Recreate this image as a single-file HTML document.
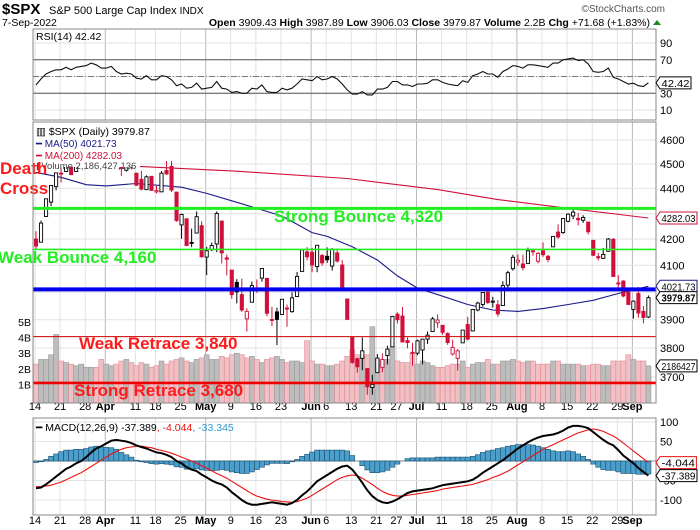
<!DOCTYPE html>
<html><head><meta charset="utf-8"><style>
html,body{margin:0;padding:0;background:#fff;}
svg{display:block;font-family:"Liberation Sans",Arial,sans-serif;}
</style></head><body>
<svg id="c" width="700" height="530" viewBox="0 0 700 530" xmlns="http://www.w3.org/2000/svg">
<g>
<text x="2" y="14" font-size="15" font-weight="bold">$SPX</text>
<text x="49" y="14" font-size="11">S&amp;P 500 Large Cap Index <tspan font-size="10">INDX</tspan></text>
<text x="665" y="12" font-size="10" fill="#555" text-anchor="end">©StockCharts.com</text>
<text x="2" y="26" font-size="10.5">7-Sep-2022</text>
<text x="650" y="26" font-size="10.5" text-anchor="end"><tspan font-weight="bold">Open</tspan> 3909.43 <tspan font-weight="bold">High</tspan> 3987.89 <tspan font-weight="bold">Low</tspan> 3906.03 <tspan font-weight="bold">Close</tspan> 3979.87 <tspan font-weight="bold">Volume</tspan> 2.2B <tspan font-weight="bold">Chg</tspan> +71.68 (+1.83%)</text>
<polygon points="653,25 661,25 657,20" fill="#1a8a1a"/>
</g>
<g id="grid"></g>
<g id="marks"></g>
<g id="overlay"></g>
</svg>
<script>
// ---- data ----
const opens=[4200,4188,4288,4345,4407,4462,4469,4493,4469,4523,4541,4603,4624,4599,
4540,4547,4572,4495,4474,4494,4462,4437,4395,4449,4386,4386,4473,4490,4385,4255,4279,4187,4223,4252,
4131,4159,4181,4270,4128,4082,4036,3991,3903,3963,4013,4052,4051,3900,3928,3919,3942,3929,3984,4077,4151,
4149,4095,4137,4134,4097,4147,4101,3975,3838,3763,3764,3729,3665,3715,3733,3774,3804,3920,3913,3826,3785,
3782,3793,3831,3858,3889,3880,3851,3779,3764,3818,3883,3860,3935,3955,4000,3965,3954,3951,4026,4087,
4112,4105,4107,4155,4115,4155,4134,4170,4227,4225,4269,4290,4280,4273,4266,4195,4133,4126,4153,4199,4034,4041,4000,
3937,3995,3930,3909.43];
const highs=[4230,4272,4358,4412,4465,4481,4522,4500,4521,4546,4575,4637,4631,4603,
4548,4593,4572,4503,4521,4521,4462,4471,4453,4450,4410,4471,4512,4512,4385,4299,4279,4240,4308,4269,
4170,4186,4308,4270,4140,4082,4048,4050,3941,4039,4047,4090,4051,3946,3943,3975,3955,3999,4075,4158,4169,
4166,4177,4143,4168,4165,4164,4119,3975,3838,3766,3837,3729,3708,3779,3781,3808,3914,3927,3946,3837,3818,
3829,3832,3858,3910,3919,3880,3855,3829,3796,3864,3910,3939,3965,3999,4013,3983,3971,4040,4079,4140,
4141,4140,4167,4162,4151,4187,4139,4211,4257,4280,4300,4325,4302,4293,4266,4195,4147,4166,4204,4204,4063,4044,4010,
3970,4019,3949,3987.89];
const lows=[4161,4188,4287,4329,4392,4424,4469,4455,4468,4508,4517,4589,4589,4530,
4507,4540,4507,4451,4469,4477,4410,4392,4395,4391,4380,4386,4455,4385,4267,4201,4175,4169,4222,4129,
4063,4154,4150,4107,4062,3976,3959,3928,3858,3964,3997,4039,3912,3877,3810,3920,3875,3925,3984,4077,4118,
4074,4074,4098,4109,4080,4110,4017,3901,3745,3715,3723,3640,3640,3715,3716,3743,3804,3887,3820,3799,3739,
3775,3743,3814,3858,3871,3846,3811,3774,3722,3818,3827,3860,3930,3947,3956,3944,3911,3951,4010,4080,
4097,4080,4108,4136,4107,4132,4112,4170,4201,4220,4265,4277,4253,4263,4218,4135,4118,4125,4153,4057,4018,3981,3954,
3904,3907,3887,3906.03];
const closes=[4173,4262,4358,4412,4463,4461,4512,4456,4520,4543,4575,4632,4602,4530,
4546,4582,4525,4481,4500,4488,4413,4397,4447,4392,4391,4462,4459,4393,4272,4296,4175,4183,4287,4132,
4155,4175,4300,4147,4123,3991,4001,3935,3930,4024,4008,4088,3923,3901,3901,3974,3941,3979,4058,4158,4132,
4101,4176,4109,4121,4161,4116,4018,3901,3750,3735,3790,3667,3675,3765,3760,3796,3912,3900,3821,3819,3785,
3825,3831,3845,3903,3899,3855,3819,3802,3790,3863,3831,3937,3960,3999,3962,3967,3921,4024,4072,4130,
4119,4091,4155,4152,4145,4140,4122,4210,4208,4280,4297,4305,4275,4284,4228,4138,4128,4141,4200,4058,4031,3986,3955,
3967,3924,3908,3979.87];
const volumesB=[2.3,2.6,2.6,2.9,4.2,2.5,2.4,2.3,2.2,2.3,2.1,2.1,2.1,2.6,
2.3,2.2,2.3,2.5,2.6,2.4,2.2,2.4,2.3,2.1,2.2,2.5,2.3,2.5,2.6,2.7,2.5,2.4,2.6,2.7,
2.9,2.6,2.6,2.8,2.7,2.9,3.0,2.9,2.7,2.8,2.6,2.4,2.6,2.7,2.8,2.6,2.4,2.5,2.5,2.4,3.8,
2.5,2.3,2.3,2.2,2.2,2.3,2.5,2.8,3.2,2.9,2.7,2.9,4.7,2.6,2.5,2.6,3.4,2.5,2.4,2.4,3.0,
2.3,2.5,2.4,2.2,2.1,2.1,2.2,2.3,2.3,2.5,2.1,2.3,2.4,2.4,2.6,2.3,2.3,2.5,2.5,2.6,
2.5,2.4,2.5,2.5,2.3,2.3,2.3,2.5,2.5,2.3,2.3,2.3,2.3,2.2,2.2,2.3,2.3,2.2,2.2,2.5,2.5,2.5,2.9,
2.6,2.5,2.5,2.19];
const rsiVals=[40,47,53,56,58,58,61,58,61,62,63,66,64,60,60,62,56,53,54,53,48,47,51,46,46,51,50,46,39,41,36,37,42,35,
36,37,44,36,35,31,32,30,30,36,35,40,32,31,31,36,34,36,41,47,46,45,50,46,47,50,47,41,34,29,29,32,28,28,35,35,37,44,44,40,40,38,
41,41,42,46,46,43,41,40,39,45,43,51,53,56,53,53,49,56,59,63,62,60,64,64,63,62,61,66,66,70,71,72,69,70,65,56,55,56,60,49,47,44,41,42,39,38,42.42];
const macdVals=[-70,-68,-60,-50,-40,-30,-20,-14,-6,0,10,22,32,38,45,52,54,52,50,46,40,36,32,27,22,20,16,10,0,-6,-16,-22,-26,-35,
-42,-50,-56,-60,-68,-80,-90,-100,-108,-112,-112,-110,-108,-106,-108,-110,-112,-108,-100,-88,-78,-65,-52,-44,-36,-28,-20,-14,-12,
-22,-38,-56,-75,-90,-100,-106,-108,-104,-98,-90,-82,-78,-76,-74,-72,-70,-66,-62,-60,-58,-56,-54,-52,-48,-40,-30,-22,-14,-6,2,12,22,
32,40,48,55,60,64,66,68,72,78,86,90,90,88,84,74,64,54,46,40,28,14,4,-6,-18,-28,-37.389];
const signalVals=[-66,-66,-64,-62,-58,-54,-48,-42,-36,-30,-22,-14,-6,2,10,18,24,30,34,36,38,38,36,34,30,27,24,20,15,10,5,0,-6,-12,
-18,-25,-32,-38,-44,-52,-60,-68,-76,-84,-90,-94,-98,-100,-102,-104,-105,-106,-104,-100,-95,-88,-80,-72,-64,-56,-48,-42,-38,
-36,-38,-44,-52,-60,-70,-78,-84,-88,-90,-90,-88,-86,-84,-82,-80,-78,-76,-72,-70,-68,-66,-64,-62,-60,-56,-52,-48,-42,-38,-32,-26,-18,
-10,-2,6,14,22,30,36,42,48,54,60,66,72,76,80,82,80,76,70,64,56,46,36,26,16,6,-4.044];
const ma50Days=[0,5,10,14,20,29,34,39,44,49,55,58,63,68,72,76,81,86,91,96,101,106,111,116,122];
const ma50Vals=[4465,4445,4415,4410,4420,4405,4380,4350,4320,4290,4225,4210,4170,4120,4060,4015,3985,3955,3935,3930,3940,3955,3970,3995,4021.73];
const ma200Days=[0,20,40,62,80,92,107,122];
const ma200Vals=[4492,4490,4470,4440,4395,4355,4318,4282.03];
const dateTickDays=[0,5,10,14,20,24,29,34,39,44,49,55,58,63,68,72,76,81,86,91,96,101,106,111,116,119];
const dateTickLabels=["14","21","28","Apr","11","18","25","May","9","16","23","Jun","6","13","21","27","Jul","11","18","25","Aug","8","15","22","29","Sep"];
const priceTicks=[4600,4500,4400,4300,4200,4100,3900,3800,3700];
const rsiTicks=[90,70,50,30,10];
const macdTicks=[100,50,-50,-100];
const volTicks=[5,4,3,2,1];

// ---- layout / scales ----
const L=33,R=656;
const X=i=>36+i*5.02;
const PT=122,PB=403, RT=29,RB=120, MT=418,MB=515;
const yP=p=>140+(Math.log(4600)-Math.log(p))/0.2177*237;
const yR=v=>110-(v-10)*(67/80);
const yM=v=>461-v*0.39;
const yV=v=>400-v*15.6;
const NS="http://www.w3.org/2000/svg";
function mk(t,a,parent){const e=document.createElementNS(NS,t);for(const k in a)e.setAttribute(k,a[k]);parent.appendChild(e);return e;}
const grid=document.getElementById('grid'),marks=document.getElementById('marks'),ov=document.getElementById('overlay');
const RED="#d0103a";

[[RT,RB,'rsi-panel'],[PT,PB,'price-panel'],[MT,MB,'macd-panel']].forEach(p=>{
  const r=mk('rect',{x:L,y:p[0],width:R-L,height:p[1]-p[0],fill:'#fff',stroke:'none'},grid);
  
  
  dateTickDays.forEach((d,k)=>{
    const month=isNaN(+dateTickLabels[k]);
    const ln=mk('line',{x1:X(d)-1,x2:X(d)-1,y1:p[0],y2:p[1],stroke:month?'#b8b8b8':'#e2e2e2','stroke-width':1},grid);
    
    
  });
});
function hgrid(y){const ln=mk('line',{x1:L,x2:R,y1:y,y2:y,stroke:'#e2e2e2'},grid);
  
  }
priceTicks.concat([4000]).forEach(p=>hgrid(yP(p)));
rsiTicks.forEach(v=>hgrid(yR(v)));
macdTicks.concat([0]).forEach(v=>hgrid(yM(v)));

function txt(x,y,s,attrs,name,parent){const t=mk('text',Object.assign({x:x,y:y,'font-size':11},attrs||{}),parent||ov);t.textContent=s;
  
  return t;}

[410,524].forEach(yy=>{
  dateTickDays.forEach((d,k)=>{
    const month=isNaN(+dateTickLabels[k]);
    txt(X(d)-1,yy,dateTickLabels[k],{'font-size':11,'text-anchor':'middle','font-weight':month?'bold':'normal'},'date-tick-label');
  });
});

// ---- RSI ----
[[70,'#555',''],[30,'#555',''],[50,'#777','6,2,1,2']].forEach(h=>{
  const ln=mk('line',{x1:L,x2:R,y1:yR(h[0]),y2:yR(h[0]),stroke:h[1],'stroke-width':1,'stroke-dasharray':h[2]},marks);
  
  
});
let rp=rsiVals.map((v,i)=>X(i).toFixed(1)+','+yR(v).toFixed(1)).join(' ');
const rl=mk('polyline',{points:rp,fill:'none',stroke:'#111','stroke-width':1.1},marks);


rsiTicks.forEach(v=>{if(v!==50)txt(660,yR(v)+4,String(v),{},'rsi-tick-label');});

// ---- volume ----
volumesB.forEach((v,i)=>{
  const up=i===0?closes[0]>=opens[0]:closes[i]>=closes[i-1];
  const b=mk('rect',{x:X(i)-2.5,y:yV(v),width:5,height:PB-yV(v),fill:up?'#bdbdbd':'#f0c0c4',stroke:up?'#9a9a9a':'#e08a94','stroke-width':0.6},marks);
  
  
});
volTicks.forEach(v=>txt(31,yV(v)+4,v+'B',{'text-anchor':'end','font-size':10.5},'volume-tick-label'));

// ---- moving averages ----
function maLine(days,vals,color,name){
  const pts=days.map((d,k)=>X(d).toFixed(1)+','+yP(vals[k]).toFixed(1)).join(' ');
  const l=mk('polyline',{points:pts,fill:'none',stroke:color,'stroke-width':1.1},marks);
  
  
}
maLine(ma200Days,ma200Vals,'#d0103a','ma200-line');
maLine(ma50Days,ma50Vals,'#1a1a8a','ma50-line');

// ---- candles ----
closes.forEach((c,i)=>{
  const o=opens[i],up=i===0?c>=o:c>=closes[i-1];
  const col=up?'#000':RED, hollow=c>o;
  const g=mk('g',{},marks);
  
  
  mk('line',{x1:X(i),x2:X(i),y1:yP(highs[i]),y2:yP(lows[i]),stroke:col,'stroke-width':1},g);
  const top=yP(Math.max(o,c)),bot=yP(Math.min(o,c));
  mk('rect',{x:X(i)-1.6,y:top,width:3.2,height:Math.max(1,bot-top),fill:hollow?'#fff':col,stroke:col,'stroke-width':0.9},g);
});

// ---- support/resistance lines ----
[[4320,'#22ee22',3,'strong-bounce-line'],[4160,'#22ee22',1.6,'weak-bounce-line'],[4010,'#0000ee',4,'blue-support-line'],[3840,'#cc0000',1,'weak-retrace-line'],[3680,'#ee0000',2.6,'strong-retrace-line']].forEach(h=>{
  const ln=mk('line',{x1:L,x2:R,y1:yP(h[0]),y2:yP(h[0]),stroke:h[1],'stroke-width':h[2]},ov);
  
  
});
const ann={'font-size':17,'font-weight':'bold'};
txt(274,222,'Strong Bounce 4,320',Object.assign({fill:'#22ee22'},ann),'strong-bounce-label');
txt(-2,263,'Weak Bounce 4,160',Object.assign({fill:'#22ee22'},ann),'weak-bounce-label');
txt(79,349,'Weak Retrace 3,840',Object.assign({fill:'#ff1a1a'},ann),'weak-retrace-label');
txt(74,396,'Strong Retrace 3,680',Object.assign({fill:'#ff1a1a'},ann),'strong-retrace-label');

const lb=mk('rect',{x:L+1,y:123,width:106,height:44,fill:'#fff'},ov);


txt(36,135,'▥ $SPX (Daily) 3979.87',{'font-size':10.5},'legend-spx');
txt(36,147,'━ MA(50) 4021.73',{'font-size':10,fill:'#1a1a8a'},'legend-ma50');
txt(36,159,'━ MA(200) 4282.03',{'font-size':10,fill:'#d0103a'},'legend-ma200');
txt(36,169,'▮Volume 2,186,427,136',{'font-size':9.5,fill:'#444'},'legend-volume');
txt(0,174,'Death',{'font-size':17,'font-weight':'bold',fill:'#ff1a1a'},'death-cross-label');
txt(0,194,'Cross',{'font-size':17,'font-weight':'bold',fill:'#ff1a1a'},'death-cross-label-2');
txt(36,40,'RSI(14) 42.42',{'font-size':10.5},'legend-rsi');

priceTicks.forEach(p=>{if(p!==4300)txt(660,yP(p)+4,String(p),{},'price-tick-label');});

// ---- MACD ----
const zl=mk('line',{x1:L,x2:R,y1:yM(0),y2:yM(0),stroke:'#888'},marks);


macdVals.forEach((m,i)=>{
  const h=m-signalVals[i];
  const y0=yM(0),y1=yM(h);
  const b=mk('rect',{x:X(i)-2.5,y:Math.min(y0,y1),width:5,height:Math.abs(y1-y0),fill:'#4a9fcc',stroke:'#1d4f6e','stroke-width':0.6},marks);
  
  
});
const sl=mk('polyline',{points:signalVals.map((v,i)=>X(i).toFixed(1)+','+yM(v).toFixed(1)).join(' '),fill:'none',stroke:'#ee1111','stroke-width':1.1},marks);


const ml=mk('polyline',{points:macdVals.map((v,i)=>X(i).toFixed(1)+','+yM(v).toFixed(1)).join(' '),fill:'none',stroke:'#000','stroke-width':2},marks);


macdTicks.forEach(v=>txt(660,yM(v)+4,String(v),{},'macd-tick-label'));
const mt=txt(36,431,'',{'font-size':10.5},'legend-macd');
mt.innerHTML='━ MACD(12,26,9) -37.389<tspan fill="#ee1111">, -4.044</tspan><tspan fill="#3399cc">, -33.345</tspan>';

[[RT,RB],[PT,PB],[MT,MB]].forEach(p=>{
  const r=mk('rect',{x:L,y:p[0],width:R-L,height:p[1]-p[0],fill:'none',stroke:'#8a8a8a'},ov);
  
  
});

// ---- value tags ----
function tag(y,s,color,bold,name){
  const w=Math.min(s.length*5.4+4,37);
  const x0=R+4;
  const p=mk('polygon',{points:`${R},${y} ${x0},${y-6} ${x0+w},${y-6} ${x0+w},${y+6} ${x0},${y+6}`,fill:'#fff',stroke:color,'stroke-width':1},ov);
  
  
  txt(x0+1.5,y+4,s,{'font-size':10.5,'font-weight':bold?'bold':'normal',textLength:w-3,lengthAdjust:'spacingAndGlyphs'},name+'-text');
}
tag(yR(42.42),'42.42','#000',false,'rsi-value-tag');
tag(yP(4282.03),'4282.03','#d0103a',false,'ma200-value-tag');
tag(yP(4021.73),'4021.73','#1a1a8a',false,'ma50-value-tag');
tag(yP(3979.87),'3979.87','#000',true,'close-value-tag');
tag(yV(2.186),'2186427','#000',false,'volume-value-tag');
tag(yM(-4.044),'-4.044','#ee1111',false,'signal-value-tag');
tag(yM(-37.389),'-37.389','#000',false,'macd-value-tag');
</script>
</body></html>
